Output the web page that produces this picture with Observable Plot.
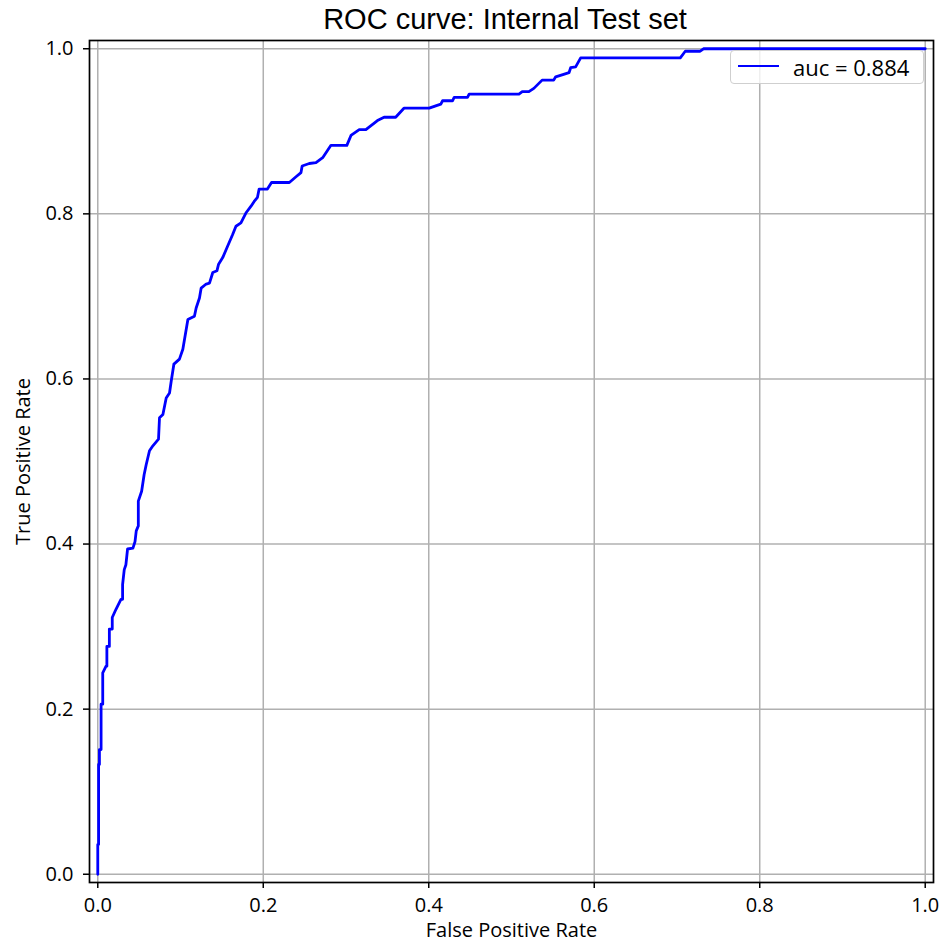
<!DOCTYPE html>
<html>
<head>
<meta charset="utf-8">
<script src="https://cdn.jsdelivr.net/npm/d3@7"></script>
<script src="https://cdn.jsdelivr.net/npm/@observablehq/plot@0.6"></script>
<style>
  html, body { margin: 0; padding: 0; background: #fff; overflow: hidden; }
  #wrap { position: relative; width: 949px; height: 944px; }
  #title { position: absolute; left: 255px; width: 500px; top: 0; height: 36px;
           text-align: center; font-family: "Liberation Sans", Arial, sans-serif;
           font-size: 29px; line-height: 38px; color: #000; white-space: nowrap; }
  #chart { position: absolute; left: 0; top: 36px; }
  #legend { position: absolute; left: 730px; top: 50px; width: 192px; height: 32px;
            border: 1px solid #cfcfcf; border-radius: 4px; background: rgba(255,255,255,0.8);
            font-family: "Open Sans", sans-serif; font-size: 22px; color: #000; }
  #legend .swatch { position: absolute; left: 7px; top: 14px; width: 41px; height: 0;
                    border-top: 2.8px solid #0000ff; }
  #legend .lbl { position: absolute; left: 62px; top: 0; line-height: 32px; white-space: nowrap; }
</style>
</head>
<body>
<div id="wrap">
  <div id="title"></div>
  <div id="chart"></div>
  <div id="legend"><div class="swatch"></div><div class="lbl"></div></div>
</div>
<script>
const titleText = "ROC curve: Internal Test set";
const xLabel = "False Positive Rate";
const yLabel = "True Positive Rate";
const seriesLabel = "auc = 0.884";
const xTicks = [0.0, 0.2, 0.4, 0.6, 0.8, 1.0];
const yTicks = [0.0, 0.2, 0.4, 0.6, 0.8, 1.0];

const fpr = [0, 0, 0.001, 0.001, 0.002, 0.002, 0.004, 0.004, 0.006, 0.006, 0.010, 0.011, 0.011,
  0.014, 0.014, 0.0175, 0.0175, 0.022, 0.028, 0.030, 0.030, 0.032, 0.034, 0.036, 0.0425, 0.045,
  0.0465, 0.049, 0.049, 0.053, 0.056, 0.0585, 0.0625, 0.0666, 0.0734, 0.0746, 0.0787, 0.0827,
  0.0867, 0.0887, 0.092, 0.0987, 0.1028, 0.1089, 0.1168, 0.1189, 0.1229, 0.1249, 0.131, 0.135,
  0.139, 0.144, 0.146, 0.151, 0.157, 0.163, 0.167, 0.173, 0.177, 0.179, 0.185, 0.189, 0.193,
  0.195, 0.205, 0.210, 0.2315, 0.2396, 0.2456, 0.247, 0.2556, 0.2637, 0.2718, 0.2818, 0.301,
  0.306, 0.316, 0.324, 0.338, 0.346, 0.360, 0.370, 0.4005, 0.4146, 0.4167, 0.4287, 0.4307,
  0.4468, 0.4488, 0.509, 0.513, 0.521, 0.527, 0.537, 0.551, 0.5534, 0.563, 0.5695, 0.5715,
  0.5775, 0.5836, 0.704, 0.710, 0.728, 0.732, 1.0];
const tpr = [0, 0.036, 0.036, 0.133, 0.133, 0.151, 0.151, 0.206, 0.206, 0.244, 0.252, 0.252, 0.276,
  0.276, 0.297, 0.297, 0.311, 0.321, 0.333, 0.333, 0.351, 0.369, 0.375, 0.394, 0.395, 0.403,
  0.416, 0.422, 0.452, 0.464, 0.484, 0.496, 0.513, 0.519, 0.527, 0.553, 0.557, 0.577,
  0.583, 0.597, 0.618, 0.624, 0.636, 0.672, 0.676, 0.686, 0.698, 0.710, 0.715, 0.716,
  0.729, 0.731, 0.739, 0.747, 0.761, 0.775, 0.785, 0.789, 0.797, 0.801, 0.809, 0.815, 0.820,
  0.830, 0.830, 0.838, 0.838, 0.845, 0.850, 0.858, 0.861, 0.862, 0.868, 0.883, 0.883,
  0.895, 0.902, 0.902, 0.913, 0.917, 0.917, 0.928, 0.928, 0.933, 0.937, 0.937, 0.941,
  0.941, 0.945, 0.945, 0.948, 0.948, 0.952, 0.962, 0.962, 0.966, 0.969, 0.971, 0.977,
  0.978, 0.989, 0.989, 0.997, 0.997, 1.0, 1.0];

const data = fpr.map((f, i) => ({fpr: f, tpr: tpr[i]}));

document.getElementById("title").textContent = titleText;
document.querySelector("#legend .lbl").textContent = seriesLabel;

const chart = Plot.plot({
  width: 949,
  height: 908,
  marginLeft: 89,
  marginRight: 16,
  marginTop: 4,
  marginBottom: 62,
  x: {domain: [-0.01, 1.01]},
  y: {domain: [-0.01, 1.01]},
  style: {fontFamily: "'Open Sans', sans-serif", fontSize: "20px", color: "#000", background: "white", overflow: "visible"},
  marks: [
    Plot.gridX(xTicks, {stroke: "#b0b0b0", strokeOpacity: 1, strokeWidth: 1.5}),
    Plot.gridY(yTicks, {stroke: "#b0b0b0", strokeOpacity: 1, strokeWidth: 1.5}),
    Plot.line(data, {x: "fpr", y: "tpr", stroke: "#0000ff", strokeWidth: 2.8}),
    Plot.frame({stroke: "#000", strokeWidth: 1.7}),
    Plot.axisX(xTicks, {tickFormat: d3.format(".1f"), tickSize: 6, tickPadding: 9, strokeWidth: 1.5,
      label: xLabel, labelAnchor: "center", labelArrow: "none", labelOffset: 54}),
    Plot.axisY(yTicks, {tickFormat: d3.format(".1f"), tickSize: 6, tickPadding: 10, strokeWidth: 1.5,
      label: yLabel, labelAnchor: "center", labelArrow: "none", labelOffset: 74})
  ]
});
document.getElementById("chart").appendChild(chart);
</script>
</body>
</html>
